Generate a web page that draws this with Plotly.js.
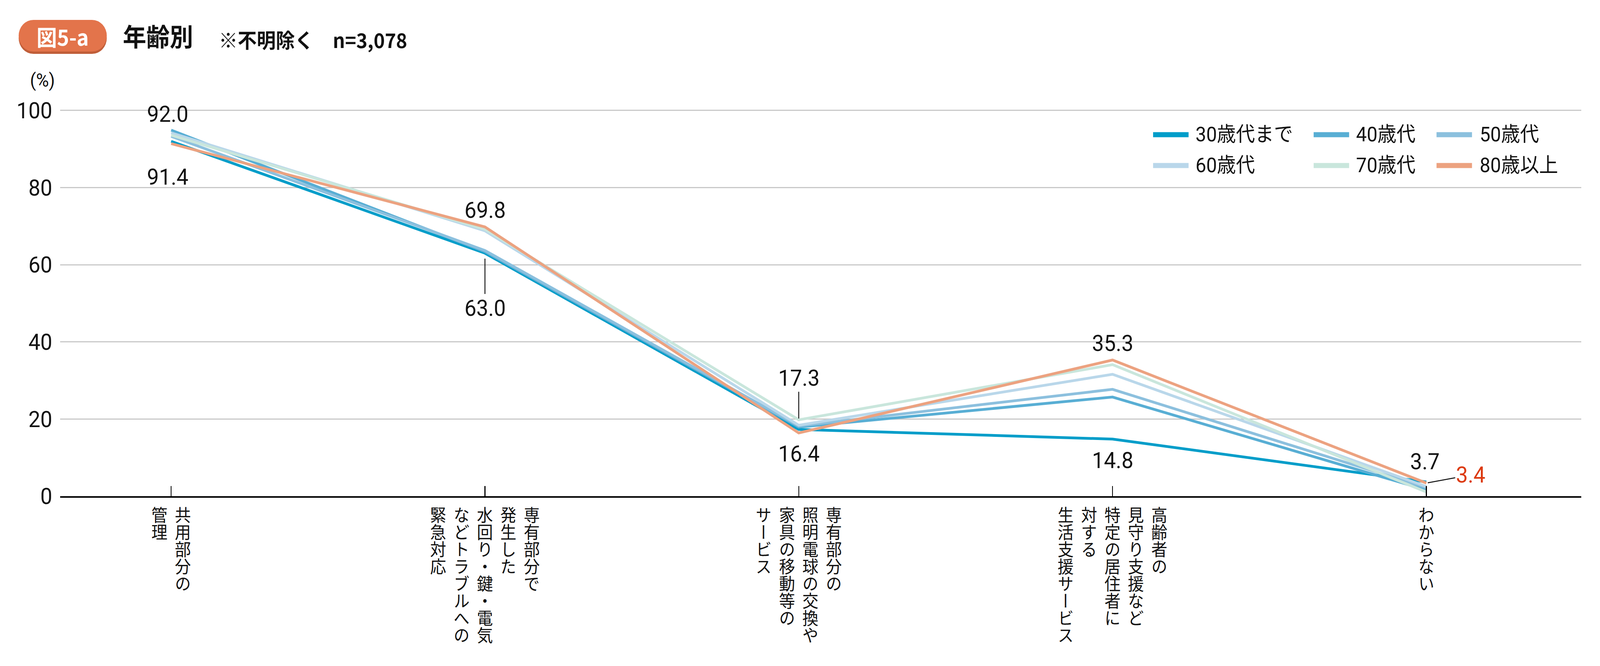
<!DOCTYPE html>
<html><head><meta charset="utf-8">
<script src="https://cdn.plot.ly/plotly-3.0.1.min.js"></script>
<style>html,body{margin:0;padding:0;background:#fff;overflow:hidden;}#chart{width:4375px;height:1706px;transform-origin:0 0;}</style>
</head><body><div id="chart"></div>
<script>
// ---- data ----
const categoryColumns = [
  ["共用部分の", "管理"],
  ["専有部分で", "発生した", "水回り・鍵・電気", "などトラブルへの", "緊急対応"],
  ["専有部分の", "照明電球の交換や", "家具の移動等の", "サービス"],
  ["高齢者の", "見守り支援など", "特定の居住者に", "対する", "生活支援サービス"],
  ["わからない"]
];
const categories = categoryColumns.map(c => c.join(""));
const seriesNames = ["30歳代まで", "40歳代", "50歳代", "60歳代", "70歳代", "80歳以上"];
const v30 = [92.0, 63.0, 17.3, 14.8, 3.7];
const v40 = [94.9, 63.4, 17.9, 25.7, 1.6];
const v50 = [93.3, 63.7, 18.2, 27.7, 2.2];
const v60 = [94.2, 68.8, 18.4, 31.6, 2.5];
const v70 = [93.6, 69.2, 19.8, 34.1, 1.1];
const v80 = [91.4, 69.8, 16.4, 35.3, 3.4];
const seriesValues = [v30, v40, v50, v60, v70, v80];
const yTickVals = [0, 20, 40, 60, 80, 100];
const titleText = "年齢別";
const noteText = "※不明除く　n=3,078";
const badgeText = "図5-a";
const unitText = "(%)";

// ---- styles / layout helpers ----
const colors = ["#009dc9", "#58aed4", "#8cc0de", "#b9d7ea", "#c9e6dc", "#eca280"];
const W = 4375, H = 1706;
const L = 164, R = 4324, T = 280, B = 1271;
const px2x = p => (p - L) / (R - L);
const py2y = p => (B - p) / (B - T);
const numFont = "'Liberation Sans Narrow', 'Arial Narrow', Roboto, 'Noto Sans CJK JP', sans-serif";
const jpFont = "'Noto Sans CJK JP', 'Noto Sans', sans-serif";
const textColor = "#111111";

const traces = seriesValues.map((vals, i) => ({
  type: "scatter", mode: "lines", name: seriesNames[i],
  x: categories, y: vals,
  line: {color: colors[i], width: 7},
  showlegend: false, hoverinfo: "skip"
}));

const annotations = [];
// value labels (series 0 = 30歳代まで, series 5 = 80歳以上)
const labelSpecs = [
  {s: 0, c: 0, dy: 70, dx: -10},
  {s: 5, c: 0, dy: -85, dx: -10},
  {s: 5, c: 1, dy: 43},
  {s: 0, c: 1, ax: 0, ay: 140, standoff: 14},
  {s: 0, c: 2, ax: 0, ay: -132, standoff: 28},
  {s: 5, c: 2, dy: -53},
  {s: 5, c: 3, dy: 43},
  {s: 0, c: 3, dy: -54},
  {s: 0, c: 4, dy: 52, dx: -4},
  {s: 5, c: 4, ax: 121, ay: -21, standoff: 4, color: "#dc3a10"}
];
labelSpecs.forEach(sp => {
  const val = seriesValues[sp.s][sp.c];
  const a = {
    x: categories[sp.c], y: val, xref: "x", yref: "y",
    text: val.toFixed(1),
    font: {family: numFont, size: 58, color: sp.color || textColor}
  };
  if (sp.ax !== undefined) {
    Object.assign(a, {showarrow: true, ax: sp.ax, ay: sp.ay, arrowhead: 0,
      arrowwidth: 2.5, arrowcolor: "#111", standoff: sp.standoff});
  } else {
    Object.assign(a, {showarrow: false, yshift: sp.dy, xshift: sp.dx || 0});
  }
  annotations.push(a);
});

// vertical category labels: one annotation per column (right to left), turned vertical after drawing
const colPitch = 64, colTopY = 1297, colFontSize = 44;
const columnAnnIdx = [];
categoryColumns.forEach((cols, ci) => {
  const n = cols.length;
  cols.forEach((col, j) => {
    const off = ((n - 1) / 2 - j) * colPitch;
    columnAnnIdx.push(annotations.length);
    annotations.push({
      x: categories[ci], xref: "x", xshift: off,
      y: py2y(colTopY), yref: "paper",
      text: col, showarrow: false, xanchor: "center", yanchor: "top", borderpad: 0,
      font: {family: jpFont, size: colFontSize, color: textColor}
    });
  });
});

// unit label
annotations.push({x: px2x(116), y: py2y(205), xref: "paper", yref: "paper", text: unitText,
  showarrow: false, xanchor: "center", yanchor: "middle",
  font: {family: numFont, size: 48, color: textColor}});
// badge text
annotations.push({x: px2x(171), y: py2y(92), xref: "paper", yref: "paper", text: "<b>" + badgeText + "</b>",
  showarrow: false, xanchor: "center", yanchor: "middle",
  font: {family: jpFont, size: 56, color: "#ffffff"}});
// note
annotations.push({x: px2x(596), y: py2y(100), xref: "paper", yref: "paper", text: "<b>" + noteText + "</b>",
  showarrow: false, xanchor: "left", yanchor: "middle",
  font: {family: jpFont, size: 52, color: textColor}});

// legend (manual, 3 columns x 2 rows)
const shapes = [];
const legSwX = [3153, 3592, 3928], legTxtX = [3267, 3706, 4044], legRowY = [345, 424];
seriesNames.forEach((nm, i) => {
  const col = i % 3, row = Math.floor(i / 3);
  shapes.push({type: "line", xref: "paper", yref: "paper",
    x0: px2x(legSwX[col]), x1: px2x(legSwX[col] + 97),
    y0: py2y(legRowY[row]), y1: py2y(legRowY[row]),
    line: {color: colors[i], width: 13}});
  annotations.push({x: px2x(legTxtX[col]), y: py2y(legRowY[row]), xref: "paper", yref: "paper",
    text: nm, showarrow: false, xanchor: "left", yanchor: "middle",
    font: {family: numFont, size: 52, color: textColor}});
});

// badge pill
function pill(x0, x1, y0, y1, color) {
  const r = (y1 - y0) / 2;
  return [
    {type: "circle", xref: "paper", yref: "paper", x0: px2x(x0), x1: px2x(x0 + 2 * r), y0: py2y(y1), y1: py2y(y0), fillcolor: color, line: {width: 0}, layer: "above"},
    {type: "circle", xref: "paper", yref: "paper", x0: px2x(x1 - 2 * r), x1: px2x(x1), y0: py2y(y1), y1: py2y(y0), fillcolor: color, line: {width: 0}, layer: "above"},
    {type: "rect", xref: "paper", yref: "paper", x0: px2x(x0 + r), x1: px2x(x1 - r), y0: py2y(y1), y1: py2y(y0), fillcolor: color, line: {width: 0}, layer: "above"}
  ];
}
const badgeShapes = pill(51, 292, 57, 138, "#c05e39").concat(pill(51, 292, 51, 132, "#e3744b"));

const layout = {
  width: W, height: H,
  margin: {l: L, r: W - R, t: T, b: H - B, pad: 0},
  paper_bgcolor: "#ffffff", plot_bgcolor: "#ffffff",
  title: {text: "<b>" + titleText + "</b>", xref: "container", yref: "container",
    x: 336 / W, xanchor: "left", y: 1 - 96 / H, yanchor: "middle",
    font: {family: jpFont, size: 64, color: textColor}},
  xaxis: {type: "category", categoryorder: "array", categoryarray: categories,
    range: [-0.3543, 4.494], showticklabels: false, showgrid: false, zeroline: false,
    showline: true, linecolor: "#000000", linewidth: 4,
    ticks: "inside", ticklen: 26, tickwidth: 2.5, tickcolor: "#000000", fixedrange: true},
  yaxis: {range: [0, 100.3], tickvals: yTickVals, ticktext: yTickVals.map(String),
    showgrid: true, gridcolor: "#c9c9c9", gridwidth: 3, zeroline: false, showline: false,
    ticks: "", ticklabelstandoff: 20,
    tickfont: {family: numFont, size: 58, color: textColor}, fixedrange: true},
  showlegend: false,
  annotations: annotations,
  shapes: shapes.concat(badgeShapes)
};

// fit the fixed-size chart into the actual viewport
const chartDiv = document.getElementById("chart");
const sx = window.innerWidth / W, sy = window.innerHeight / H;
if (sx > 0 && sy > 0 && (Math.abs(sx - 1) > 0.001 || Math.abs(sy - 1) > 0.001)) {
  chartDiv.style.transform = "scale(" + sx + "," + sy + ")";
}

function makeColumnsVertical(gd) {
  columnAnnIdx.forEach(idx => {
    const g = gd.querySelector('.annotation[data-index="' + idx + '"]');
    if (!g) return;
    const rect = g.querySelector("rect.bg");
    const txt = g.querySelector("text.annotation-text");
    if (!rect || !txt) return;
    const bx = parseFloat(rect.getAttribute("x")) || 0;
    const by = parseFloat(rect.getAttribute("y")) || 0;
    const bw = parseFloat(rect.getAttribute("width")) || 0;
    txt.querySelectorAll("tspan").forEach(t => { t.removeAttribute("x"); t.removeAttribute("y"); t.removeAttribute("dy"); });
    txt.setAttribute("x", bx + bw / 2);
    txt.setAttribute("y", by);
    txt.setAttribute("text-anchor", "start");
    txt.style.writingMode = "vertical-rl";
    txt.style.textOrientation = "mixed";
    txt.style.dominantBaseline = "central";
  });
}

Plotly.newPlot("chart", traces, layout, {staticPlot: true, displayModeBar: false})
  .then(gd => makeColumnsVertical(gd));
</script>
</body></html>
